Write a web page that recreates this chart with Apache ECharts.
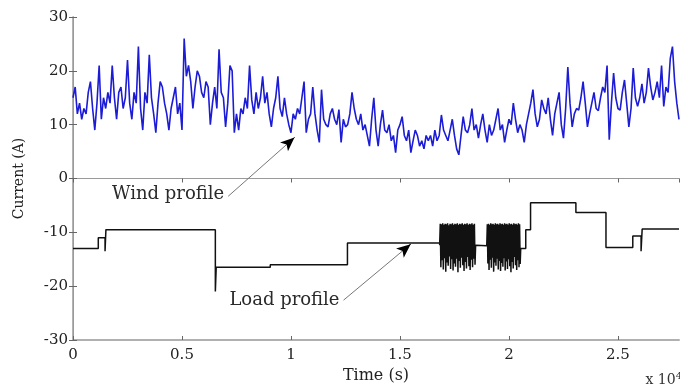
<!DOCTYPE html>
<html>
<head>
<meta charset="utf-8">
<script src="https://cdn.jsdelivr.net/npm/echarts@6/dist/echarts.min.js"></script>
<style>html,body{margin:0;padding:0;background:#fff;}#c{width:680px;height:389px;}</style>
</head>
<body>
<div id="c"></div>
<script>
// Time axis ticks (x 10^4 s) and current ticks (A)
var xTicks = [0, 0.5, 1, 1.5, 2, 2.5];
var yTicks = [-30, -20, -10, 0, 10, 20, 30];
var timeStep = 0.01; // wind samples every 0.01 (x 10^4 s)

// Wind profile current (A), one value per 0.01 x 10^4 s
var windCurrent = [
  15, 17, 12, 14, 11, 13, 12, 16, 18, 13,
  9, 14, 21, 11, 15, 13, 16, 14, 21, 15,
  11, 16, 17, 13, 15, 22, 14, 11, 16, 14,
  24.5, 13, 9, 16, 14, 23, 15, 12, 8.5, 14,
  18, 17, 14, 12, 9, 13, 15, 17, 12, 14,
  9, 26, 19, 21, 18, 13, 17, 20, 19, 16,
  15, 18, 17, 10, 14, 17, 13, 24, 16, 15,
  9.6, 14, 21, 20, 8.5, 12, 9, 13, 12, 15,
  13, 21, 14.6, 12, 16, 13, 15, 19, 14, 16,
  12, 9.6, 13, 15, 19, 13, 11.5, 15, 12, 10,
  8.5, 12, 11, 13, 12, 15, 18, 8.5, 11, 12,
  17, 12, 9, 6.7, 16.5, 11, 10, 9.6, 12, 13,
  11, 10, 12.8, 6.7, 11, 9.6, 10, 12, 16, 13,
  11, 10, 12, 9, 10, 8, 6, 11, 15, 9,
  6, 10, 12.7, 9, 8.5, 10, 7, 8, 4.8, 9,
  10, 11.5, 8, 7, 9, 4.8, 7, 9, 8, 6,
  7, 5.5, 8, 7, 8, 6, 9, 7, 8, 11.8,
  9, 8, 7, 9, 11, 8, 5.5, 4.4, 8, 11.5,
  9, 8.5, 10, 13, 9, 10, 7.5, 10, 12, 9,
  6.7, 10, 8, 9, 11, 13, 9, 10, 6.7, 9,
  11, 10, 14, 11, 8.5, 10, 9, 6.7, 10, 12,
  14, 16.5, 12, 9.6, 11, 14.6, 13, 12, 15, 11,
  8, 12, 14, 16, 10, 7.5, 13, 20.7, 14, 9.6,
  12, 13, 12.7, 15, 18, 14, 9.6, 12, 14, 16,
  13, 12.6, 15, 17, 16, 21, 7.2, 14, 19.6, 15,
  13, 12.7, 16, 18.3, 14, 9.6, 13, 20.5, 15, 13.4,
  15, 17.6, 14, 16, 20.5, 17, 14.6, 16, 18, 15,
  21, 13.4, 17, 16, 22.3, 24.5, 18, 14, 11
];

// Load profile steps before/between/after the oscillating blocks: [time, current]
var loadStepsA = [[0, -13], [0.116, -11], [0.147, -13.5], [0.151, -9.5], [0.653, -21], [0.657, -16.5], [0.905, -16], [1.259, -12]];
var loadStepsB = [[1.847, -12.5]];
var loadStepsC = [[2.054, -13], [2.077, -9.5], [2.099, -4.5], [2.307, -6.3], [2.445, -12.8], [2.568, -10.7], [2.606, -13.5], [2.611, -9.4], [2.78, -9.4]];

// Oscillating load blocks
var osc1Range = [1.682, 1.847];
var osc1Current = [
  -12.4, -8.4, -16.5, -8.5, -15.2, -8.3, -16.9, -8.6, -14.8, -8.4,
  -17.3, -8.5, -15.6, -8.3, -16.2, -8.7, -14.5, -8.4, -16.8, -8.5,
  -15.0, -8.3, -17.1, -8.6, -15.8, -8.4, -16.4, -8.5, -14.9, -8.3,
  -17.4, -8.6, -15.3, -8.4, -16.6, -8.5, -14.7, -8.3, -16.1, -8.6,
  -17.2, -8.4, -15.5, -8.5, -16.7, -8.3, -14.6, -8.6, -16.3, -8.4,
  -17.0, -8.5, -15.1, -8.3, -16.5, -8.6, -14.9, -8.4, -16.0, -12.4
];
var osc2Range = [1.898, 2.054];
var osc2Current = [
  -12.5, -8.5, -15.8, -8.4, -17.0, -8.6, -15.1, -8.3, -16.6, -8.5,
  -14.7, -8.4, -17.3, -8.6, -15.6, -8.3, -16.2, -8.5, -14.9, -8.4,
  -16.9, -8.6, -15.3, -8.3, -17.2, -8.5, -15.7, -8.4, -16.4, -8.6,
  -14.8, -8.3, -17.1, -8.5, -15.4, -8.4, -16.8, -8.6, -15.0, -8.3,
  -16.3, -8.5, -17.4, -8.4, -15.5, -8.6, -16.7, -8.3, -14.6, -8.5,
  -16.1, -8.4, -17.0, -8.6, -15.2, -8.3, -16.5, -8.5, -15.9, -13.0
];

// Annotation anchors (data coordinates): [arrow start, arrow tip]
var windArrow = [[0.712, -3.3], [1.016, 7.6]];
var loadArrow = [[1.241, -22.6], [1.549, -12.2]];

function spread(range, vals) {
  var out = [];
  var n = vals.length;
  for (var i = 0; i < n; i++) out.push([range[0] + (range[1] - range[0]) * i / (n - 1), vals[i]]);
  return out;
}
var windData = windCurrent.map(function (v, i) { return [+(i * timeStep).toFixed(3), v]; });
var loadData = [].concat(loadStepsA, spread(osc1Range, osc1Current), loadStepsB, spread(osc2Range, osc2Current), loadStepsC);

function near(a, b, f) { return [a[0] + (b[0] - a[0]) * f, a[1] + (b[1] - a[1]) * f]; }

var font = 'DejaVu Serif';
var chart = echarts.init(document.getElementById('c'), null, { renderer: 'canvas' });
var axisGray = '#9a9a9a';
chart.setOption({
  backgroundColor: '#fff',
  animation: false,
  grid: { left: 73, right: 1, top: 17, bottom: 49 },
  xAxis: [{
    type: 'value', min: xTicks[0], max: 2.78, interval: 0.5,
    name: 'Time (s)', nameLocation: 'middle', nameGap: 25,
    nameTextStyle: { fontFamily: font, fontSize: 16, color: '#222', verticalAlign: 'top' },
    axisLine: { show: true, onZero: false, lineStyle: { color: '#b0b0b0', width: 2 } },
    axisTick: { show: true, inside: true, length: 4, lineStyle: { color: '#666' } },
    axisLabel: { fontFamily: font, fontSize: 15, color: '#222', margin: 8, showMaxLabel: false },
    splitLine: { show: false }
  }, {
    type: 'value', position: 'top', min: xTicks[0], max: 2.78, interval: 0.5,
    axisLine: { show: true, lineStyle: { color: axisGray, width: 1 } },
    axisTick: { show: true, inside: true, length: 4, lineStyle: { color: '#666' } },
    axisLabel: { show: false }, splitLine: { show: false }
  }],
  yAxis: [{
    type: 'value', min: yTicks[0], max: yTicks[yTicks.length - 1], interval: 10,
    name: 'Current (A)', nameLocation: 'middle', nameGap: 47,
    nameTextStyle: { fontFamily: font, fontSize: 14, color: '#222' },
    axisLine: { show: true, onZero: false, lineStyle: { color: axisGray, width: 1.5 } },
    axisTick: { show: true, inside: true, length: 4, lineStyle: { color: '#666' } },
    axisLabel: { fontFamily: font, fontSize: 15, color: '#222', margin: 5 },
    splitLine: { show: false }
  }, {
    type: 'value', position: 'right', min: yTicks[0], max: yTicks[yTicks.length - 1], interval: 10,
    axisLine: { show: true, lineStyle: { color: axisGray, width: 1 } },
    axisTick: { show: true, inside: true, length: 4, lineStyle: { color: '#666' } },
    axisLabel: { show: false }, splitLine: { show: false }
  }],
  series: [{
    name: 'Wind profile', type: 'line', data: windData, showSymbol: false, symbol: 'none',
    lineStyle: { color: '#1c1cd6', width: 1.6 }, z: 3,
    markLine: {
      silent: true, animation: false, symbol: ['none', 'none'],
      label: { show: false },
      lineStyle: { color: '#777', width: 1, type: 'solid' },
      data: [
        [{ coord: windArrow[0] }, { coord: windArrow[1] }],
        [{ coord: loadArrow[0] }, { coord: loadArrow[1] }]
      ]
    }
  }, {
    name: 'Load profile', type: 'line', data: loadData, step: 'end', showSymbol: false, symbol: 'none',
    lineStyle: { color: '#111', width: 1.5 }, z: 2,
    markLine: {
      silent: true, animation: false, symbol: ['none', 'arrow'], symbolSize: [9, 14],
      label: { show: false },
      lineStyle: { color: '#000', width: 1, type: 'solid' },
      data: [
        [{ coord: near(windArrow[0], windArrow[1], 0.93) }, { coord: windArrow[1] }],
        [{ coord: near(loadArrow[0], loadArrow[1], 0.93) }, { coord: loadArrow[1] }]
      ]
    }
  }]
});

function px(pt) { return chart.convertToPixel({ xAxisIndex: 0, yAxisIndex: 0 }, pt); }
var w0 = px(windArrow[0]), l0 = px(loadArrow[0]);
chart.setOption({
  graphic: [
    { type: 'text', x: w0[0] - 4, y: w0[1] - 2, style: { text: 'Wind profile', fontFamily: font, fontSize: 18, fill: '#2a2a2a', align: 'right', verticalAlign: 'middle' } },
    { type: 'text', x: l0[0] - 4, y: l0[1], style: { text: 'Load profile', fontFamily: font, fontSize: 18, fill: '#2a2a2a', align: 'right', verticalAlign: 'middle' } },
    { type: 'text', right: -2, top: 371, style: { text: 'x 10{s|4}', fontFamily: font, fontSize: 14, fill: '#333', rich: { s: { fontFamily: font, fontSize: 10, verticalAlign: 'top', padding: [0, 0, 8, 0] } } } }
  ]
});
</script>
</body>
</html>
